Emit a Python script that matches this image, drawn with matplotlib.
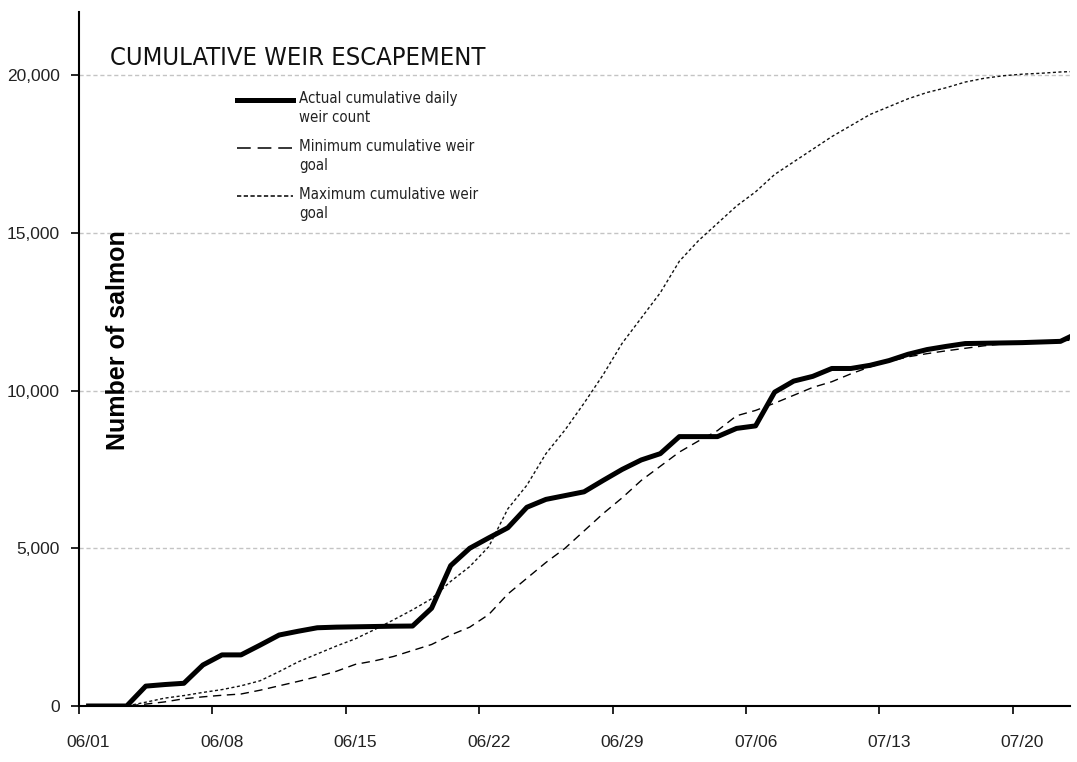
import matplotlib
matplotlib.use('Agg')
import matplotlib.pyplot as plt
from matplotlib.ticker import StrMethodFormatter
import pandas as pd

# days from 06/01 to 07/23
dates = pd.date_range('2000-06-01', periods=53, freq='D')
tick_labels = ['06/01', '06/08', '06/15', '06/22', '06/29', '07/06', '07/13', '07/20']

# actual cumulative daily weir count
actual = [0, 0, 0, 630, 680, 720, 1300, 1620, 1620, 1930,
          2250, 2370, 2480, 2500, 2510, 2520, 2530, 2535, 3100, 4450,
          5000, 5330, 5650, 6300, 6550, 6670, 6790, 7150, 7500, 7800,
          8000, 8540, 8540, 8540, 8800, 8880, 9950, 10300, 10450, 10700,
          10700, 10800, 10950, 11150, 11300, 11400, 11490, 11500, 11510, 11520,
          11540, 11560, 11850]

# minimum cumulative weir goal
minimum = [0, 0, 0, 60, 130, 230, 290, 340, 380, 500,
           640, 780, 930, 1100, 1320, 1430, 1570, 1760, 1950, 2250,
           2500, 2900, 3550, 4050, 4550, 5000, 5550, 6100, 6600, 7150,
           7600, 8050, 8400, 8730, 9200, 9370, 9600, 9850, 10100, 10280,
           10530, 10750, 10920, 11070, 11170, 11260, 11340, 11420, 11480, 11520,
           11550, 11580, 11610]

# maximum cumulative weir goal
maximum = [0, 0, 0, 120, 250, 330, 430, 520, 640, 800,
           1090, 1400, 1650, 1900, 2130, 2420, 2730, 3050, 3400, 3950,
           4420, 5050, 6250, 7000, 8000, 8750, 9600, 10500, 11500, 12300,
           13100, 14100, 14750, 15300, 15850, 16300, 16850, 17250, 17650, 18050,
           18400, 18750, 19000, 19250, 19450, 19600, 19780, 19900, 19980, 20030,
           20060, 20100, 20120]

labels = ['Actual cumulative daily\nweir count',
          'Minimum cumulative weir\ngoal',
          'Maximum cumulative weir\ngoal']

sans = ['Liberation Sans', 'DejaVu Sans']

fig = plt.figure(figsize=(10.77, 7.62), dpi=100)
ax = fig.add_axes([0.0734, 0.0735, 0.9201, 0.9107])

# points sit in the middle of each day (between tick marks)
x = dates + pd.Timedelta(hours=12)
ax.plot(x, actual, color='black', lw=3.6, solid_joinstyle='round', zorder=4)
ax.plot(x, minimum, color='black', lw=1.0, dashes=(6, 4), zorder=3)
ax.plot(x, maximum, color='#111111', lw=1.0, dashes=(2.2, 1.8), zorder=3)

ax.set_xlim(dates[0], dates[0] + pd.Timedelta(days=52))
ax.set_ylim(0, 22000)
# tick marks on the day boundaries, labels centred on the day
ax.set_xticks(dates[::7])
ax.set_xticklabels([])
ax.set_xticks(dates[::7] + pd.Timedelta(hours=12), minor=True)
ax.set_xticklabels(tick_labels, minor=True)
ax.set_yticks([0, 5000, 10000, 15000, 20000])
ax.yaxis.set_major_formatter(StrMethodFormatter('{x:,.0f}'))

for lab in ax.get_xticklabels(minor=True) + ax.get_yticklabels():
    lab.set_family(sans)
    lab.set_fontsize(12.5)
    lab.set_color('#222222')
ax.tick_params(axis='y', direction='out', length=6, width=1.2, pad=8)
ax.tick_params(axis='x', which='major', direction='out', length=6, width=1.2)
ax.tick_params(axis='x', which='minor', length=0, pad=21)

ax.grid(axis='y', color='#c4c4c4', lw=1, dashes=(3, 2))
ax.set_axisbelow(True)
for s in ['top', 'right']:
    ax.spines[s].set_visible(False)
for s in ['left', 'bottom']:
    ax.spines[s].set_linewidth(1.5)

ax.text(0.031, 0.934, 'CUMULATIVE WEIR ESCAPEMENT', transform=ax.transAxes,
        family='DejaVu Sans', stretch='condensed', fontsize=18.3, va='center',
        ha='left', color='#111111')
ax.text(0.039, 0.527, 'Number of salmon', transform=ax.transAxes, rotation=90,
        family=sans, fontsize=18, fontweight='bold', va='center', ha='center')

# legend drawn by hand: handle aligned with the first text line (as in Excel)
styles = [dict(lw=3.6), dict(lw=1.1, dashes=(9, 4.5)), dict(lw=1.1, dashes=(2.8, 1.6))]
for k, (lab, st) in enumerate(zip(labels, styles)):
    ytop = 0.873 - k * 0.069
    ax.plot([0.159, 0.216], [ytop, ytop], transform=ax.transAxes, color='black',
            clip_on=False, **st)
    ax.text(0.222, ytop + 0.013, lab, transform=ax.transAxes, family='DejaVu Sans',
            stretch='condensed', fontsize=10.8, va='top', ha='left',
            linespacing=1.3, color='#222222')

plt.savefig('out.png', dpi=100)
